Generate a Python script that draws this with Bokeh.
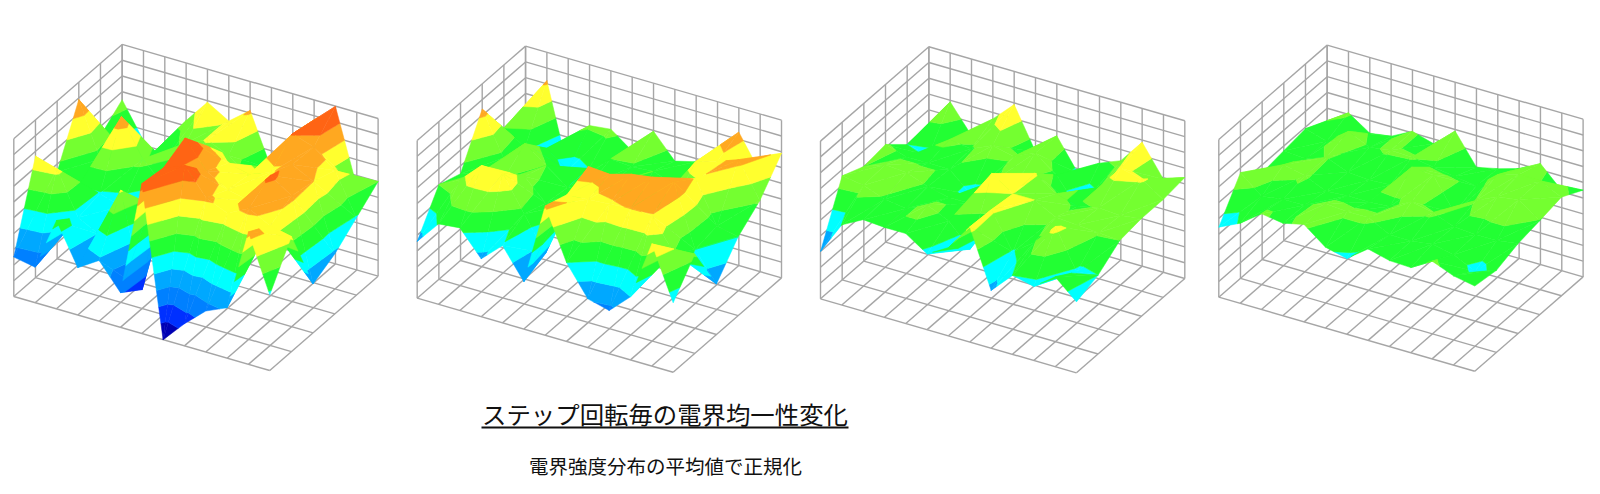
from bokeh.plotting import figure
from bokeh.models import Range1d, ColumnDataSource
from bokeh.core.properties import value
from bokeh.embed import file_html
from bokeh.resources import INLINE

# Field strength on a 13 x 6 grid, in wall divisions (0..10), rows front (j=0) to back (j=5)
panel1 = [
    [2.5, 2.25, 5.6, 3.0, 3.85, 2.2, 9.5, 0.0, 1.4, 2.6, 3.2, 8.4, 4.8],
    [7.7, 7.3, 4.6, 3.9, 7.1, 1.2, 9.3, 9.85, 8.2, 7.6, 8.3, 7.6, 7.3],
    [5.5, 5.0, 4.9, 4.5, 4.6, 5.0, 10.0, 8.3, 7.5, 7.2, 9.2, 8.3, 3.1],
    [8.9, 5.5, 8.6, 6.3, 5.0, 5.5, 8.3, 7.6, 7.3, 7.8, 8.7, 8.0, 3.8],
    [5.4, 5.0, 4.5, 5.0, 6.5, 7.1, 6.5, 5.5, 6.5, 9.05, 8.6, 7.5, 4.9],
    [6.5, 4.3, 3.1, 6.35, 7.9, 7.1, 8.16, 4.85, 7.46, 8.74, 9.98, 5.3, 6.0],
]
panel2 = [
    [3.6, 5.1, 5.24, 3.67, 4.9, 3.0, 8.2, 5.0, 3.09, 2.74, 4.0, 7.75, 4.4],
    [6.0, 6.7, 8.0, 7.9, 5.7, 3.6, 7.7, 7.8, 7.9, 8.05, 7.95, 6.0, 6.3],
    [5.5, 6.0, 5.9, 6.5, 5.2, 5.5, 8.3, 8.2, 8.6, 8.8, 8.9, 5.0, 3.2],
    [8.4, 5.7, 7.0, 6.0, 5.0, 5.5, 6.0, 5.0, 5.2, 6.0, 7.9, 5.3, 5.0],
    [6.0, 5.2, 5.5, 4.5, 5.0, 6.0, 5.9, 6.0, 5.5, 7.4, 7.8, 8.3, 6.1],
    [4.6, 8.2, 2.9, 6.14, 6.3, 5.3, 6.95, 5.45, 5.8, 7.1, 8.46, 6.3, 7.9],
]
panel3 = [
    [3.0, 5.08, 5.8, 5.7, 5.7, 4.8, 5.6, 7.3, 3.66, 5.0, 4.7, 5.7, 4.5],
    [6.6, 6.4, 5.9, 5.7, 6.3, 5.7, 4.3, 7.2, 4.9, 5.9, 7.3, 4.8, 5.0],
    [6.0, 6.5, 6.4, 5.9, 5.6, 5.6, 7.9, 7.0, 7.0, 6.3, 6.2, 6.1, 6.0],
    [6.2, 5.8, 5.8, 5.8, 4.6, 5.8, 5.8, 7.1, 6.2, 5.8, 6.1, 6.0, 6.2],
    [5.0, 4.7, 6.1, 5.9, 6.5, 6.2, 6.8, 5.8, 4.1, 5.8, 7.4, 7.1, 6.2],
    [4.9, 6.9, 5.16, 6.6, 7.9, 5.3, 6.7, 4.7, 5.75, 6.3, 7.86, 5.9, 6.4],
]
panel4 = [
    [4.44, 5.08, 6.07, 5.87, 6.17, 5.13, 4.8, 5.8, 5.45, 5.4, 6.2, 5.66, 5.4],
    [6.7, 5.6, 5.8, 5.8, 6.3, 6.2, 6.2, 5.5, 5.5, 5.7, 5.4, 4.75, 5.2],
    [5.5, 6.4, 6.1, 5.5, 5.6, 5.6, 5.7, 6.4, 6.1, 5.6, 5.5, 5.5, 5.7],
    [5.7, 5.6, 6.05, 5.5, 5.4, 5.5, 7.0, 6.9, 4.9, 6.06, 6.7, 6.9, 5.96],
    [5.9, 5.5, 6.5, 5.9, 6.1, 6.05, 5.8, 5.6, 5.4, 6.5, 6.9, 6.9, 6.25],
    [4.95, 6.1, 5.2, 5.4, 6.1, 5.7, 6.9, 5.0, 5.3, 5.7, 6.4, 5.08, 5.5],
]
band_colors = ["#0000b4", "#0030ff", "#0080ff", "#00a8ff", "#00ffff",
               "#22ff33", "#74ff30", "#ffff2e", "#ffa820", "#ff6414"]
title = "ステップ回転毎の電界均一性変化"
subtitle = "電界強度分布の平均値で正規化"

NI, NJ, NZ = 12, 5, 10
SI = (21.33, 6.17)
SJ = (21.67, -18.87)
SZ = 15.77
origins = [(13.3, 296.0), (416.7, 297.7), (820.0, 298.3), (1218.3, 296.7)]


def project(o, i, j, z):
    return (o[0] + SI[0] * i + SJ[0] * j, o[1] + SI[1] * i + SJ[1] * j - SZ * z)


def clip(poly, lo, hi):
    def cut(pts, lim, keep_above):
        out = []
        for a, b in zip(pts, pts[1:] + pts[:1]):
            ina = a[2] >= lim if keep_above else a[2] <= lim
            inb = b[2] >= lim if keep_above else b[2] <= lim
            if ina:
                out.append(a)
            if ina != inb:
                t = (lim - a[2]) / (b[2] - a[2])
                out.append(tuple(a[k] + t * (b[k] - a[k]) for k in range(3)))
        return out
    pts = poly
    if lo is not None:
        pts = cut(pts, lo, True)
    if pts and hi is not None:
        pts = cut(pts, hi, False)
    return pts


p = figure(width=1584, height=486, x_range=Range1d(0, 1584), y_range=Range1d(486, 0),
           x_axis_type=None, y_axis_type=None, toolbar_location=None,
           output_backend="svg", min_border=0, outline_line_color=None,
           background_fill_color="white", border_fill_color="white")

gx0, gy0, gx1, gy1 = [], [], [], []


def seg(o, a, b):
    pa, pb = project(o, *a), project(o, *b)
    gx0.append(pa[0]); gy0.append(pa[1]); gx1.append(pb[0]); gy1.append(pb[1])


sx, sy, sc = [], [], []
for o, grid in zip(origins, [panel1, panel2, panel3, panel4]):
    for i in range(NI + 1):
        seg(o, (i, NJ, 0), (i, NJ, NZ))
        seg(o, (i, 0, 0), (i, NJ, 0))
    for j in range(NJ + 1):
        seg(o, (0, j, 0), (0, j, NZ))
        seg(o, (0, j, 0), (NI, j, 0))
    for k in range(1, NZ + 1):
        seg(o, (0, 0, k), (0, NJ, k))
        seg(o, (0, NJ, k), (NI, NJ, k))
    for j in range(NJ - 1, -1, -1):
        for i in range(NI):
            a = (i, j, grid[j][i])
            b = (i + 1, j, grid[j][i + 1])
            c = (i + 1, j + 1, grid[j + 1][i + 1])
            d = (i, j + 1, grid[j + 1][i])
            for tri in ((a, d, c), (a, b, c)):
                pts = []
                for v in tri:
                    x, y = project(o, *v)
                    pts.append((x, y, v[2]))
                for n, col in enumerate(band_colors):
                    lo = None if n == 0 else n
                    hi = None if n == len(band_colors) - 1 else n + 1
                    cl = clip(pts, lo, hi)
                    if len(cl) >= 3:
                        sx.append([q[0] for q in cl])
                        sy.append([q[1] for q in cl])
                        sc.append(col)

p.segment(gx0, gy0, gx1, gy1, line_color="#a6a6a6", line_width=1.4)
src = ColumnDataSource(dict(xs=sx, ys=sy, c=sc))
p.patches("xs", "ys", source=src, fill_color="c", line_color="c", line_width=0.5, line_join="round")

p.text([664.5], [413], text=[title], text_font=value("Noto Sans CJK JP"), text_font_size="24.4px",
       text_color="#111111", text_align="center", text_baseline="middle")
p.segment([481], [427], [848], [427], line_color="#111111", line_width=2)
p.text([665], [465], text=[subtitle], text_font=value("Noto Sans CJK JP"), text_font_size="19.5px",
       text_color="#111111", text_align="center", text_baseline="middle")

open("out.html", "w").write(file_html(p, INLINE))
